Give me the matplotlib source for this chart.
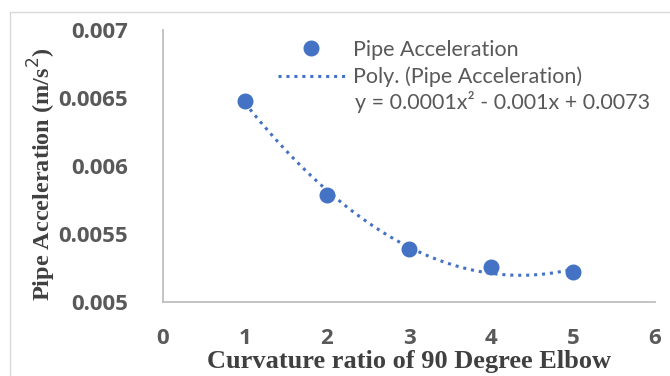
import numpy as np
import matplotlib
matplotlib.use('Agg')
import matplotlib.pyplot as plt
from matplotlib.lines import Line2D
from matplotlib.patches import Rectangle

# data
curvature = [1, 2, 3, 4, 5]
accel = [0.00648, 0.00579, 0.00539, 0.00526, 0.00522]
xticks = [0, 1, 2, 3, 4, 5, 6]
yticks = [0.005, 0.0055, 0.006, 0.0065, 0.007]
ytick_labels = ['0.005', '0.0055', '0.006', '0.0065', '0.007']

blue = '#4472C4'
grey = '#595959'
dots = (0, (1, 1.6))

fig = plt.figure(figsize=(6.7, 3.76), dpi=100)
ax = fig.add_axes([163/670, 1 - 302/376, 492/670, 272/376])

# outer chart border (only left/top edges show)
fig.patches.append(Rectangle((10/670, -0.1), 1.2, 1 - 12/376 + 0.1,
                             transform=fig.transFigure, fill=False,
                             edgecolor='#D9D9D9', lw=1.0))

# 2nd order trendline, like Excel's poly trendline
coef = np.polyfit(curvature, accel, 2)
xs = np.linspace(curvature[0], curvature[-1], 200)
ax.plot(xs, np.polyval(coef, xs), color=blue, lw=2.2, linestyle=dots, zorder=2)
ax.plot(curvature, accel, 'o', color=blue, ms=10.5, zorder=3)

ax.set_xlim(0, 6)
ax.set_ylim(0.005, 0.007)
tickfont = {'family': 'Open Sans', 'weight': 'bold', 'size': 16}
ax.set_xticks(xticks)
ax.set_xticklabels([str(v) for v in xticks], fontdict=tickfont)
ax.set_yticks(yticks)
ax.set_yticklabels(ytick_labels, fontdict=tickfont)
ax.tick_params(length=0, labelcolor=grey)
ax.tick_params(axis='y', pad=25)
ax.tick_params(axis='x', pad=19)

for s in ['top', 'right']:
    ax.spines[s].set_visible(False)
for s in ['left', 'bottom']:
    ax.spines[s].set_color('#BFBFBF')
    ax.spines[s].set_linewidth(1.3)

ax.set_xlabel('Curvature ratio of 90 Degree Elbow', family='Liberation Serif',
              fontweight='bold', fontsize=19, color='#404040')
ax.set_ylabel('Pipe Acceleration (m/s$^2$)', family='Liberation Serif',
              fontweight='bold', fontsize=17.5, color='#404040')
ax.yaxis.set_label_coords(-0.213, 0.47)
ax.xaxis.set_label_coords(0.5, -0.178)

handles = [Line2D([], [], marker='o', ls='none', color=blue, ms=10.5),
           Line2D([], [], color=blue, lw=2.2, ls=dots)]
leg = ax.legend(handles, ['Pipe Acceleration', 'Poly. (Pipe Acceleration)'],
                loc='upper left', frameon=False,
                prop={'family': 'Lato', 'size': 15.5}, handlelength=3.1,
                handletextpad=0.4, labelspacing=0.3, borderpad=0,
                borderaxespad=0)
leg.set_bbox_to_anchor((278/670, 1 - 40/376), transform=fig.transFigure)
for t in leg.get_texts():
    t.set_color(grey)

fig.text(355/670, 1 - 102/376, 'y = 0.0001x² - 0.001x + 0.0073',
         family='Lato', fontsize=15.5, color=grey, va='center', ha='left')

fig.savefig('out.png', dpi=100)
